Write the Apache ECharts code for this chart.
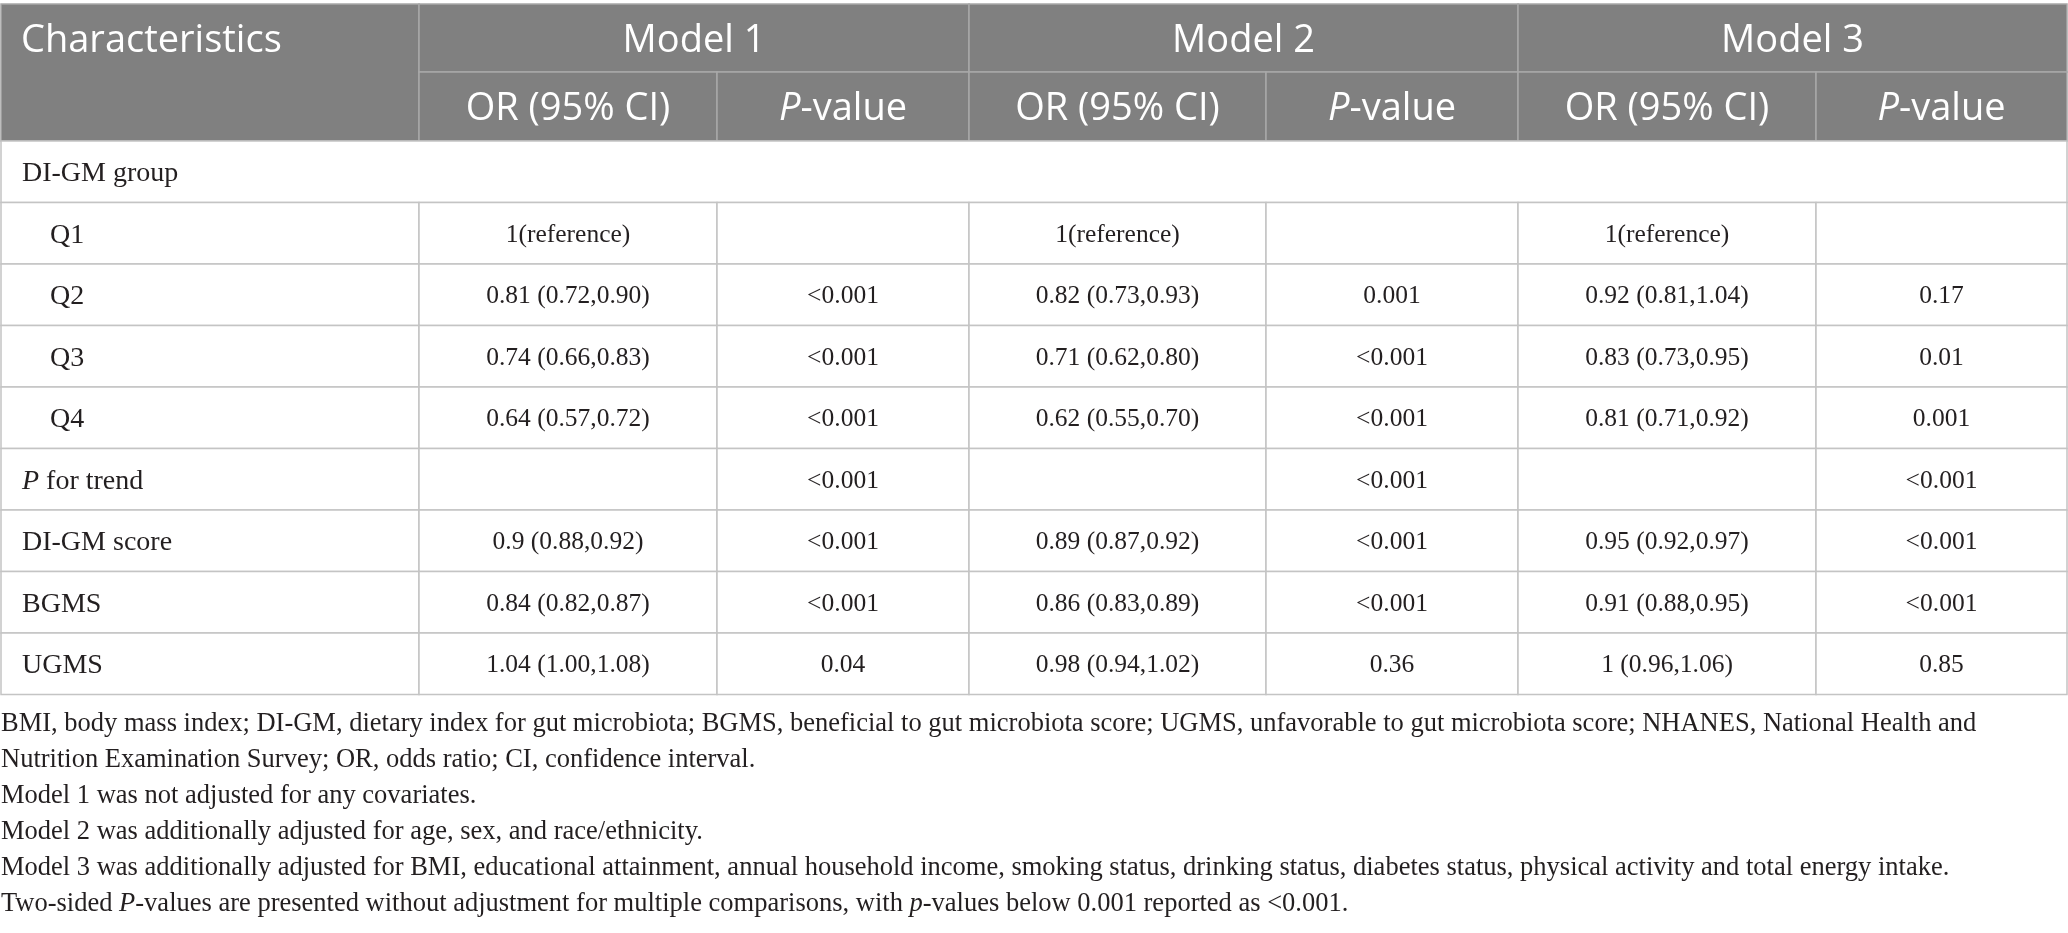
<!DOCTYPE html>
<html>
<head>
<meta charset="utf-8">
<title>Table</title>
<script src="https://cdn.jsdelivr.net/npm/echarts@6/dist/echarts.min.js"></script>
<style>
  html, body { margin: 0; padding: 0; background: #fff; }
  #table-chart { width: 2068px; height: 933px; }
</style>
</head>
<body>
<div id="table-chart"></div>
<script>
// table content

var modelNames = ['Model 1', 'Model 2', 'Model 3'];
var subHeaders = ['OR (95% CI)', '{i|P}-value'];
var rowLabels = ['DI-GM group', 'Q1', 'Q2', 'Q3', 'Q4', '{i|P} for trend', 'DI-GM score', 'BGMS', 'UGMS'];
var groupRows = [0];
var indentRows = [1, 2, 3, 4];

var orModel1 = ['', '1(reference)', '0.81 (0.72,0.90)', '0.74 (0.66,0.83)', '0.64 (0.57,0.72)', '', '0.9 (0.88,0.92)', '0.84 (0.82,0.87)', '1.04 (1.00,1.08)'];
var pModel1 = ['', '', '<0.001', '<0.001', '<0.001', '<0.001', '<0.001', '<0.001', '0.04'];
var orModel2 = ['', '1(reference)', '0.82 (0.73,0.93)', '0.71 (0.62,0.80)', '0.62 (0.55,0.70)', '', '0.89 (0.87,0.92)', '0.86 (0.83,0.89)', '0.98 (0.94,1.02)'];
var pModel2 = ['', '', '0.001', '<0.001', '<0.001', '<0.001', '<0.001', '<0.001', '0.36'];
var orModel3 = ['', '1(reference)', '0.92 (0.81,1.04)', '0.83 (0.73,0.95)', '0.81 (0.71,0.92)', '', '0.95 (0.92,0.97)', '0.91 (0.88,0.95)', '1 (0.96,1.06)'];
var pModel3 = ['', '', '0.17', '0.01', '0.001', '<0.001', '<0.001', '<0.001', '0.85'];

var footnotes = [
  'BMI, body mass index; DI-GM, dietary index for gut microbiota; BGMS, beneficial to gut microbiota score; UGMS, unfavorable to gut microbiota score; NHANES, National Health and',
  'Nutrition Examination Survey; OR, odds ratio; CI, confidence interval.',
  'Model 1 was not adjusted for any covariates.',
  'Model 2 was additionally adjusted for age, sex, and race/ethnicity.',
  'Model 3 was additionally adjusted for BMI, educational attainment, annual household income, smoking status, drinking status, diabetes status, physical activity and total energy intake.',
  'Two-sided {i|P}-values are presented without adjustment for multiple comparisons, with {i|p}-values below 0.001 reported as <0.001.'
];

// layout (pixels)
var colEdges = [1, 419, 717, 969, 1266, 1518, 1816, 2067];
var headTop = 4, headMid = 72, headBottom = 141, rowHeight = 61.5;
var noteTop = 724, noteStep = 36;

var valueCols = [orModel1, pModel1, orModel2, pModel2, orModel3, pModel3];

var cells = [];
function addCell(x0, x1, y0, y1, text, kind, opts) {
  opts = opts || {};
  cells.push({
    x0: x0, x1: x1, y0: y0, y1: y1, text: text, kind: kind,
    align: opts.align || 'center', pad: opts.pad || 0, textY: opts.textY
  });
}

// header
addCell(colEdges[0], colEdges[1], headTop, headBottom, 'Characteristics', 'head',
  { align: 'left', pad: 20, textY: (headTop + headMid) / 2 + 3 });
modelNames.forEach(function (m, i) {
  addCell(colEdges[1 + 2 * i], colEdges[3 + 2 * i], headTop, headMid, m, 'head');
});
for (var c = 0; c < 6; c++) {
  addCell(colEdges[c + 1], colEdges[c + 2], headMid, headBottom, subHeaders[c % 2], 'head');
}

// body
rowLabels.forEach(function (label, r) {
  var y0 = headBottom + r * rowHeight, y1 = y0 + rowHeight;
  if (groupRows.indexOf(r) >= 0) {
    addCell(colEdges[0], colEdges[7], y0, y1, label, 'label', { align: 'left', pad: 21 });
    return;
  }
  var pad = indentRows.indexOf(r) >= 0 ? 49 : 21;
  addCell(colEdges[0], colEdges[1], y0, y1, label, 'label', { align: 'left', pad: pad });
  valueCols.forEach(function (col, k) {
    addCell(colEdges[k + 1], colEdges[k + 2], y0, y1, col[r], 'body');
  });
});

// notes under the table
footnotes.forEach(function (t, i) {
  var y = noteTop + i * noteStep;
  addCell(1, 1, y, y, t, 'note', { align: 'left', textY: y });
});

var dom = document.getElementById('table-chart');
var myChart = echarts.init(dom);

var fonts = {
  head: { family: '"Open Sans", sans-serif', size: 38, color: '#ffffff', shift: 3 },
  label: { family: '"Liberation Serif", serif', size: 28, color: '#231f20', shift: 2 },
  body: { family: '"Liberation Serif", serif', size: 25.5, color: '#231f20', shift: 2 },
  note: { family: '"Liberation Serif", serif', size: 26.5, color: '#231f20', shift: 0 }
};

var option = {
  animation: false,
  grid: { left: 0, right: 0, top: 0, bottom: 0 },
  xAxis: { type: 'value', min: 0, max: 2068, show: false },
  yAxis: { type: 'value', min: 0, max: 933, inverse: true, show: false },
  series: [
    {
      type: 'custom',
      clip: false,
      encode: { x: [0, 1], y: [2, 3] },
      data: cells.map(function (c) { return [c.x0, c.x1, c.y0, c.y1]; }),
      renderItem: function (params, api) {
        var c = cells[params.dataIndex];
        var p0 = api.coord([api.value(0), api.value(2)]);
        var p1 = api.coord([api.value(1), api.value(3)]);
        var f = fonts[c.kind];
        var tx = c.align === 'left' ? p0[0] + c.pad : (p0[0] + p1[0]) / 2;
        var ty = c.textY != null ? api.coord([0, c.textY])[1] : (p0[1] + p1[1]) / 2 + f.shift;
        var children = [];
        if (c.kind !== 'note') {
          children.push({
            type: 'rect',
            shape: { x: p0[0], y: p0[1], width: p1[0] - p0[0], height: p1[1] - p0[1] },
            style: {
              fill: c.kind === 'head' ? '#808080' : '#ffffff',
              stroke: c.kind === 'head' ? '#a8a8a8' : '#c4c4c4',
              lineWidth: 1.5
            }
          });
        }
        children.push({
          type: 'text',
          style: {
            x: tx,
            y: ty,
            text: c.text,
            align: c.align,
            verticalAlign: 'middle',
            fontFamily: f.family,
            fontSize: f.size,
            fill: f.color,
            rich: {
              i: { fontStyle: 'italic', fontFamily: f.family, fontSize: f.size, fill: f.color }
            }
          }
        });
        return { type: 'group', children: children };
      }
    }
  ]
};

if (option && typeof option === 'object') {
  myChart.setOption(option);
}
</script>
</body>
</html>
